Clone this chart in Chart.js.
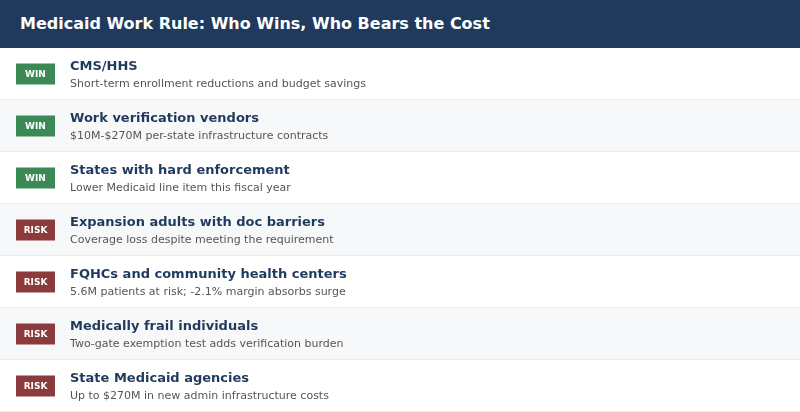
<!DOCTYPE html>
<html>
<head>
<meta charset="utf-8">
<script src="https://cdn.jsdelivr.net/npm/chart.js@4/dist/chart.umd.min.js"></script>
<style>
  html, body { margin: 0; padding: 0; background: #ffffff; }
  body { width: 800px; height: 412px; overflow: hidden; font-family: 'DejaVu Sans', sans-serif; }
  .header {
    height: 48px; background: #1f3a5c; color: #ffffff;
    font-weight: bold; font-size: 16px; line-height: 48px; padding-left: 20px;
  }
  .wrap { position: relative; width: 800px; height: 364px; }
</style>
</head>
<body>
<div class="header">Medicaid Work Rule: Who Wins, Who Bears the Cost</div>
<div class="wrap"><canvas id="stakeChart"></canvas></div>
<script>
const stakeholders = [
    'CMS/HHS',
    'Work verification vendors',
    'States with hard enforcement',
    'Expansion adults with doc barriers',
    'FQHCs and community health centers',
    'Medically frail individuals',
    'State Medicaid agencies',
];
const details = [
    'Short-term enrollment reductions and budget savings',
    '$10M-$270M per-state infrastructure contracts',
    'Lower Medicaid line item this fiscal year',
    'Coverage loss despite meeting the requirement',
    '5.6M patients at risk; -2.1% margin absorbs surge',
    'Two-gate exemption test adds verification burden',
    'Up to $270M in new admin infrastructure costs',
];
const outcomes = ['WIN', 'WIN', 'WIN', 'RISK', 'RISK', 'RISK', 'RISK'];

const badgeColors = { WIN: '#3b8a56', RISK: '#8b3b3b' };

// badges + text for each row, placed on the row centre from the y scale
const rowText = {
    id: 'rowText',
    afterDatasetsDraw(chart) {
        const ctx = chart.ctx;
        const yScale = chart.scales.y;
        ctx.save();
        stakeholders.forEach((name, i) => {
            const cy = yScale.getPixelForValue(i);
            const outcome = outcomes[i];

            ctx.fillStyle = badgeColors[outcome];
            ctx.fillRect(16, cy - 10.5, 39, 21);
            ctx.fillStyle = '#ffffff';
            ctx.font = 'bold 9px "DejaVu Sans"';
            ctx.textAlign = 'center';
            ctx.textBaseline = 'middle';
            ctx.fillText(outcome, 35.5, cy + 0.5);

            ctx.textAlign = 'left';
            ctx.textBaseline = 'alphabetic';
            ctx.fillStyle = '#1f3a5c';
            ctx.font = 'bold 13px "DejaVu Sans"';
            ctx.fillText(name, 70, cy - 4);
            ctx.fillStyle = '#555555';
            ctx.font = '11px "DejaVu Sans"';
            ctx.fillText(details[i], 70, cy + 13);
        });
        ctx.restore();
    },
};

new Chart(document.getElementById('stakeChart'), {
    type: 'bar',
    data: {
        labels: stakeholders,
        datasets: [{
            data: stakeholders.map(() => [0, 1]),
            backgroundColor: stakeholders.map((_, i) => (i % 2 ? '#f7f8fa' : '#ffffff')),
            borderColor: '#e6e8eb',
            borderWidth: { top: 0, right: 0, bottom: 1, left: 0 },
            borderSkipped: false,
            barPercentage: 1,
            categoryPercentage: 1,
        }],
    },
    options: {
        indexAxis: 'y',
        responsive: true,
        maintainAspectRatio: false,
        animation: false,
        layout: { padding: 0 },
        scales: {
            x: { type: 'linear', min: 0, max: 1, display: false },
            y: { display: false, offset: true },
        },
        plugins: {
            legend: { display: false },
            tooltip: { enabled: false },
        },
    },
    plugins: [rowText],
});
</script>
</body>
</html>
